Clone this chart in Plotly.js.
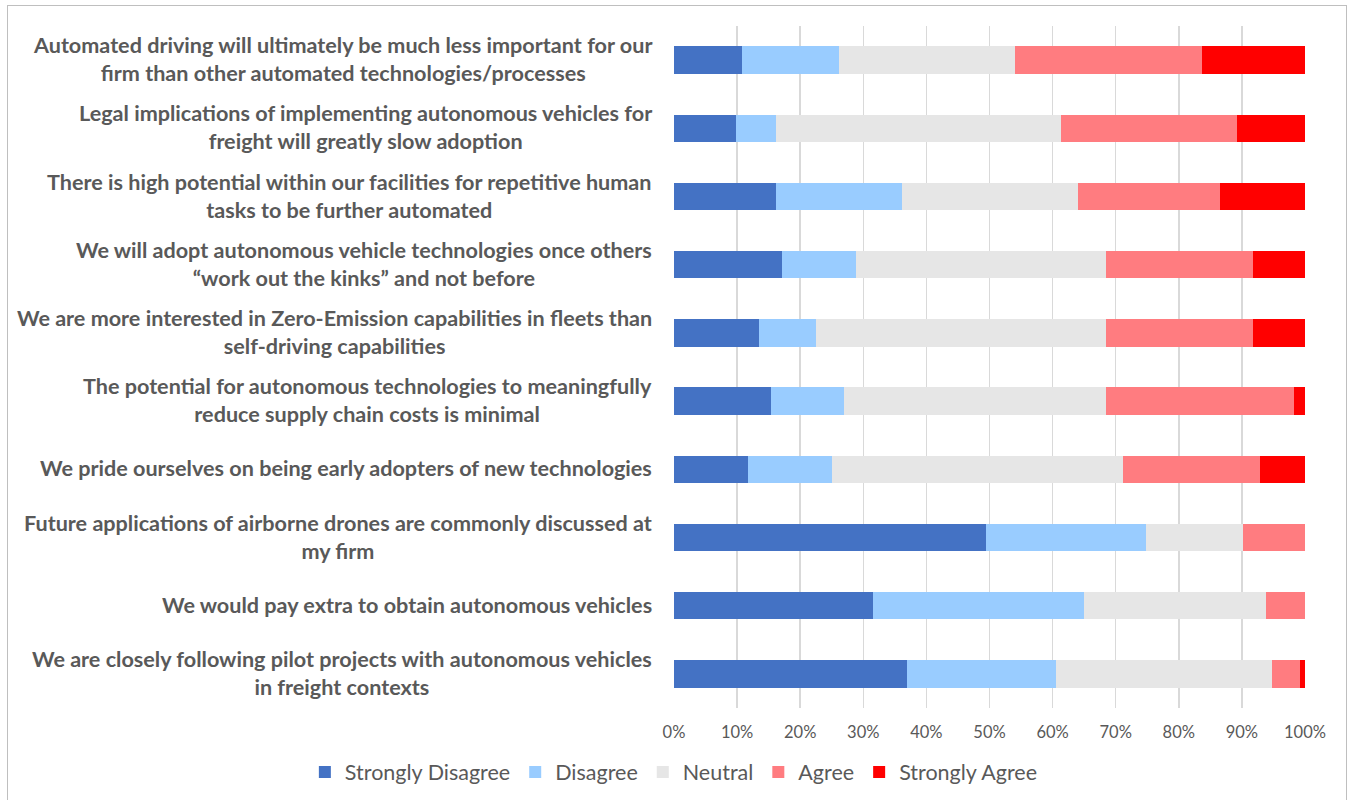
<!DOCTYPE html>
<html>
<head>
<meta charset="utf-8">
<script src="https://cdn.plot.ly/plotly-3.0.1.min.js"></script>
<style>
  html, body { margin: 0; padding: 0; background: #ffffff; }
  #wrap { position: relative; width: 1349px; height: 800px; overflow: hidden; }
  #chart { position: absolute; left: 0; top: 0; width: 1349px; height: 800px; }
  #frame { position: absolute; left: 7px; top: 5px; width: 1340px; height: 820px;
           border: 1px solid #bfbfbf; box-sizing: border-box; pointer-events: none; }
</style>
</head>
<body>
<div id="wrap">
  <div id="chart"></div>
  <div id="frame"></div>
</div>
<script>
// Statements (top to bottom as shown)
const statements = [
  "Automated driving will ultimately be much less important for our<br>firm than other automated technologies/processes",
  "Legal implications of implementing autonomous vehicles for<br>freight will greatly slow adoption",
  "There is high potential within our facilities for repetitive human<br>tasks to be further automated",
  "We will adopt autonomous vehicle technologies once others<br>\u201cwork out the kinks\u201d and not before",
  "We are more interested in Zero-Emission capabilities in fleets than<br>self-driving capabilities",
  "The potential for autonomous technologies to meaningfully<br>reduce supply chain costs is minimal",
  "We pride ourselves on being early adopters of new technologies",
  "Future applications of airborne drones are commonly discussed at<br>my firm",
  "We would pay extra to obtain autonomous vehicles",
  "We are closely following pilot projects with autonomous vehicles<br>in freight contexts"
];

// Shares (%)
const stronglyDisagree = [10.7,  9.8, 16.2, 17.1, 13.4, 15.3, 11.7, 49.5, 31.5, 36.9];
const disagree         = [15.4,  6.4, 19.9, 11.7,  9.1, 11.6, 13.4, 25.3, 33.4, 23.6];
const neutral          = [28.0, 45.1, 27.9, 39.7, 46.0, 41.6, 46.0, 15.4, 28.9, 34.2];
const agree            = [29.6, 28.0, 22.5, 23.3, 23.3, 29.8, 21.8,  9.8,  6.2,  4.5];
const stronglyAgree    = [16.3, 10.7, 13.5,  8.2,  8.2,  1.7,  7.1,  0.0,  0.0,  0.8];

const seriesNames = ["Strongly Disagree", "Disagree", "Neutral", "Agree", "Strongly Agree"];
const seriesColors = ["#4472C4", "#99CCFF", "#E6E6E6", "#FF7C80", "#FF0000"];
const seriesValues = [stronglyDisagree, disagree, neutral, agree, stronglyAgree];

const tickVals = [0, 10, 20, 30, 40, 50, 60, 70, 80, 90, 100];
const tickText = ["0%", "10%", "20%", "30%", "40%", "50%", "60%", "70%", "80%", "90%", "100%"];

const cats = statements.map((s, i) => "c" + i);

const FONT = "Lato, 'Open Sans', sans-serif";

const traces = seriesNames.map((name, k) => ({
  type: "bar",
  orientation: "h",
  name: name,
  y: cats,
  x: seriesValues[k],
  marker: { color: seriesColors[k], line: { width: 0 } },
  hoverinfo: "x+name"
}));

const annotations = statements.map((s, i) => ({
  xref: "paper", yref: "y",
  x: 0, y: cats[i],
  xanchor: "right", yanchor: "middle",
  xshift: -20,
  yshift: 1,
  align: "center",
  text: s,
  showarrow: false,
  font: { family: FONT, size: 21.6, color: "#595959", weight: "bold" }
}));

const layout = {
  width: 1349, height: 800,
  paper_bgcolor: "#ffffff",
  plot_bgcolor: "#ffffff",
  margin: { l: 674, r: 44, t: 26, b: 92, autoexpand: false },
  barmode: "stack",
  bargap: 0.6,
  showlegend: true,
  legend: {
    orientation: "h",
    xref: "paper", yref: "paper",
    x: -0.585, xanchor: "left",
    y: -0.094, yanchor: "middle",
    font: { family: FONT, size: 21.5, color: "#595959" },
    traceorder: "normal"
  },
  xaxis: {
    range: [0, 100],
    tickvals: tickVals,
    ticktext: tickText,
    showgrid: true,
    gridcolor: "#d9d9d9",
    gridwidth: 1.5,
    zeroline: false,
    showline: false,
    ticks: "",
    ticklabelstandoff: 12,
    tickfont: { family: FONT, size: 16.5, color: "#595959" },
    fixedrange: true
  },
  yaxis: {
    autorange: "reversed",
    showticklabels: false,
    showgrid: false,
    zeroline: false,
    showline: false,
    ticks: "",
    fixedrange: true
  },
  annotations: annotations
};

Plotly.newPlot("chart", traces, layout, { displayModeBar: false, staticPlot: true });
</script>
</body>
</html>
